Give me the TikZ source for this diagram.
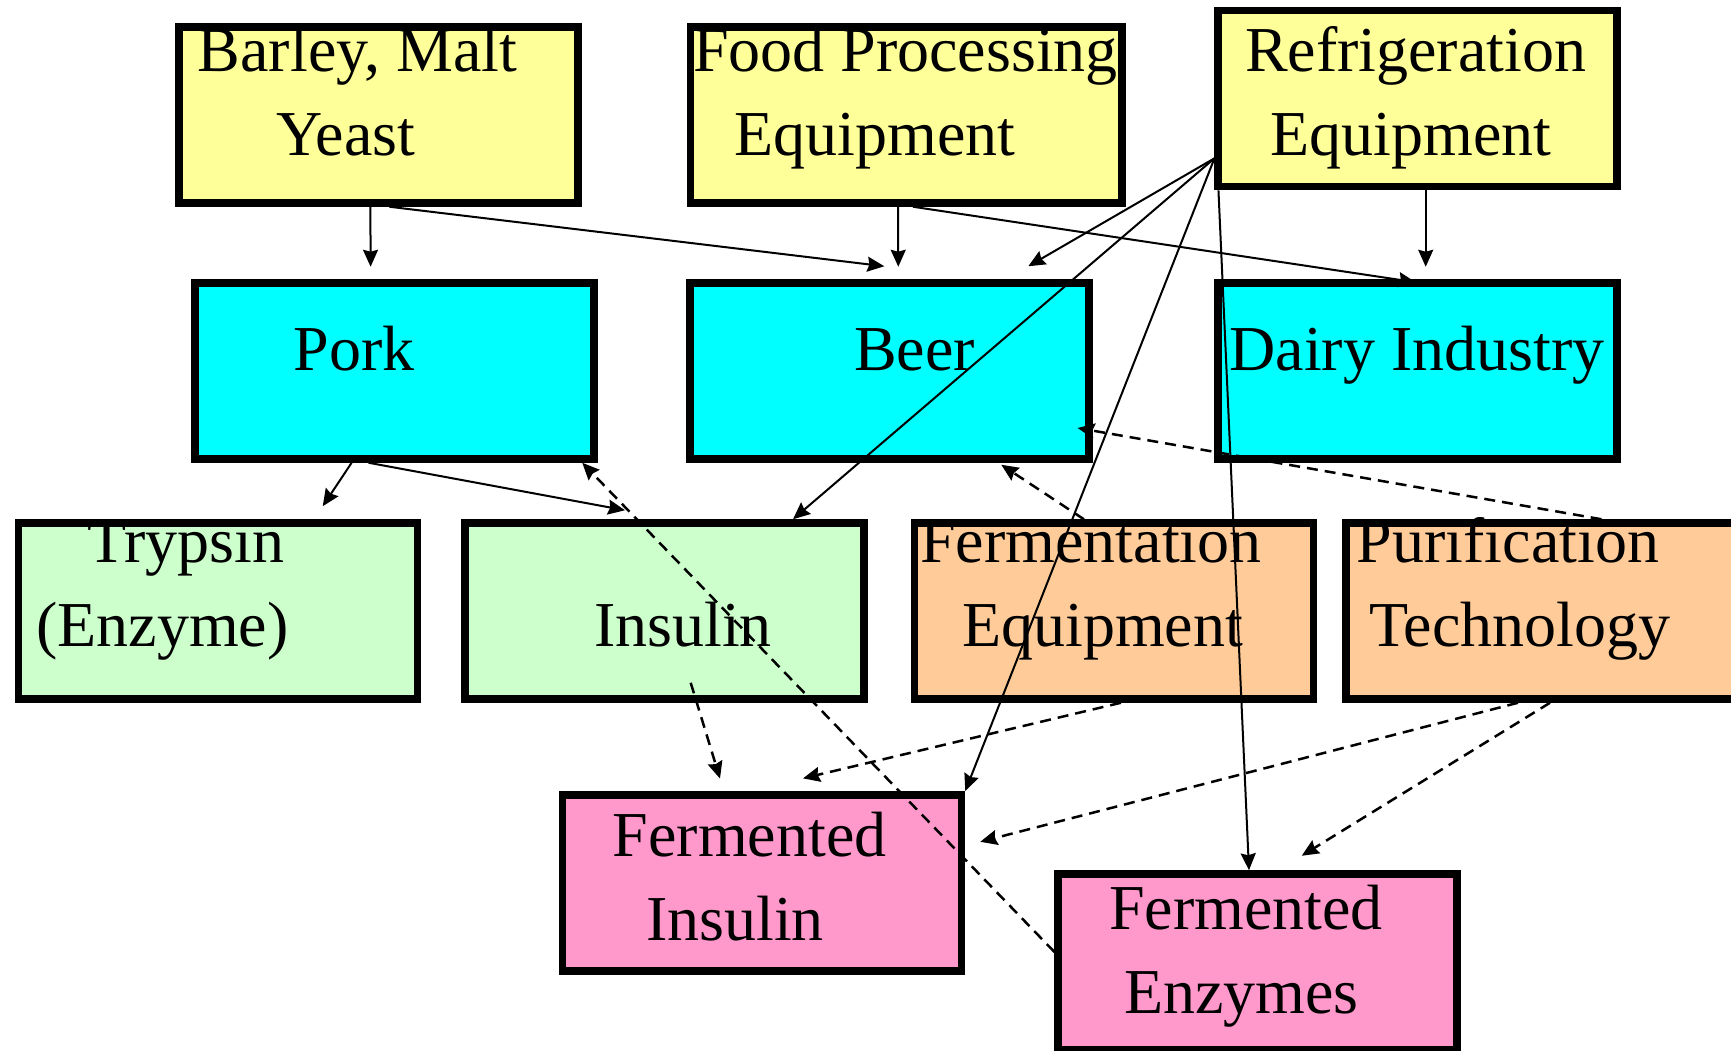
\documentclass[tikz,border=0pt]{standalone}
\usepackage{fontspec}
\setmainfont{Liberation Serif}
\usepackage{xcolor}
\usepackage{tikz}
\usetikzlibrary{arrows.meta}
\definecolor{yel}{rgb}{1, 1, 0.6}
\definecolor{cyn}{rgb}{0, 1, 1}
\definecolor{grn}{rgb}{0.8, 1, 0.8}
\definecolor{org}{rgb}{1, 0.8, 0.6}
\definecolor{pnk}{rgb}{1, 0.6, 0.8}
\tikzset{
	box/.style = {rectangle, draw=black, line width=7.5pt,
		minimum width=399pt, minimum height=176pt, inner sep=0pt},
	txt/.style = {anchor=base, inner sep=0pt, font=\fontsize{64}{84}\selectfont},
	arr/.style = {line width=2pt, -{Stealth[length=17pt, width=15pt, inset=2pt]}},
	darr/.style = {arr, line width=2.5pt, dash pattern=on 11pt off 7pt}
}
\begin{document}
\begin{tikzpicture}[x=1pt, y=-1pt]
	\useasboundingbox (0,0) rectangle (1731,1050);
	% sources
	\node[box, fill=yel] (barley) at (378.4,115) {};
	\node[box, fill=yel, minimum width=431.5pt] (food) at (906,115) {};
	\node[box, fill=yel] (refrig) at (1417.7,98.7) {};
	% industries
	\node[box, fill=cyn] (pork) at (394.6,371) {};
	\node[box, fill=cyn] (beer) at (889.3,371) {};
	\node[box, fill=cyn] (dairy) at (1417.7,371) {};
	% products and technology
	\node[box, fill=grn] (trypsin) at (218,611) {};
	\node[box, fill=grn] (insulin) at (664.7,611) {};
	\node[box, fill=org] (ferm) at (1113.9,611) {};
	\node[box, fill=org] (purif) at (1545.5,611) {};
	% fermented products
	\node[box, fill=pnk] (fins) at (762,882.8) {};
	\node[box, fill=pnk] (fenz) at (1257.7,962) {};
	% texts, one node a line
	\node[txt] (barley1) at (357.5,71) {Barley, Malt};
	\node[txt] (barley2) at (345.8,155) {Yeast};
	\node[txt] (food1) at (905.5,71) {Food Processing};
	\node[txt] (food2) at (875,155) {Equipment};
	\node[txt] (refrig1) at (1415.6,71) {Refrigeration};
	\node[txt] (refrig2) at (1410.8,155) {Equipment};
	\node[txt] (pork1) at (354,370) {Pork};
	\node[txt] (beer1) at (914.6,370) {Beer};
	\node[txt] (dairy1) at (1417,370) {Dairy Industry};
	\node[txt] (trypsin1) at (185.8,562) {Trypsin};
	\node[txt] (trypsin2) at (162.5,646) {(Enzyme)};
	\node[txt] (insulin1) at (683,646) {Insulin};
	\node[txt] (ferm1) at (1091,562) {Fermentation};
	\node[txt] (ferm2) at (1102.6,646) {Equipment};
	\node[txt] (purif1) at (1508,562) {Purification};
	\node[txt] (purif2) at (1519.6,646) {Technology};
	\node[txt] (fins1) at (749.6,856) {Fermented};
	\node[txt] (fins2) at (735,940) {Insulin};
	\node[txt] (fenz1) at (1246,929) {Fermented};
	\node[txt] (fenz2) at (1241.4,1013) {Enzymes};
	% solid links
	\draw[arr] ([shift={(-8,0)}]barley.south) -- ([shift={(-24,-12.5)}]pork.north);
	\draw[arr] ([shift={(11,0)}]barley.south) -- ([shift={(-5,-13)}]beer.north);
	\draw[arr] ([shift={(-8,0)}]food.south) -- ([shift={(9,-12.5)}]beer.north);
	\draw[arr] ([shift={(7,0)}]food.south) -- ([shift={(-2,3)}]dairy.north);
	\draw[arr] ([shift={(8,0)}]refrig.south) -- ([shift={(8,-12.5)}]dairy.north);
	\draw[arr] ([shift={(0,59.6)}]refrig.west) -- ([shift={(139,-13)}]beer.north);
	\draw[arr] ([shift={(0,59.6)}]refrig.west) -- ([shift={(128.3,0)}]insulin.north);
	\draw[arr] ([shift={(0,59.6)}]refrig.west) -- (fins.north east);
	\draw[arr] ([shift={(4,0)}]refrig.south west) -- ([shift={(-8.7,0)}]fenz.north);
	\draw[arr] ([shift={(-43,0)}]pork.south) -- ([shift={(104.7,-13)}]trypsin.north);
	\draw[arr] ([shift={(-26,0)}]pork.south) -- ([shift={(-39.7,-9)}]insulin.north);
	% dashed links
	\draw[darr] ([shift={(0,-10)}]fenz.west) -- ([shift={(-15.6,0)}]pork.south east);
	\draw[darr] ([shift={(26,-20)}]insulin.south) -- ([shift={(-42,-12.5)}]fins.north);
	\draw[darr] ([shift={(7,0)}]ferm.south) -- ([shift={(41,-12.7)}]fins.north);
	\draw[darr] ([shift={(-27.5,0)}]purif.south) -- ([shift={(15,-41)}]fins.east);
	\draw[darr] ([shift={(4.5,0)}]purif.south) -- ([shift={(44,-14.5)}]fenz.north);
	\draw[darr] ([shift={(-30,0)}]ferm.north) -- ([shift={(112,2)}]beer.south);
	\draw[darr] ([shift={(56,0)}]purif.north) -- ([shift={(-15,57)}]beer.east);
\end{tikzpicture}
\end{document}
